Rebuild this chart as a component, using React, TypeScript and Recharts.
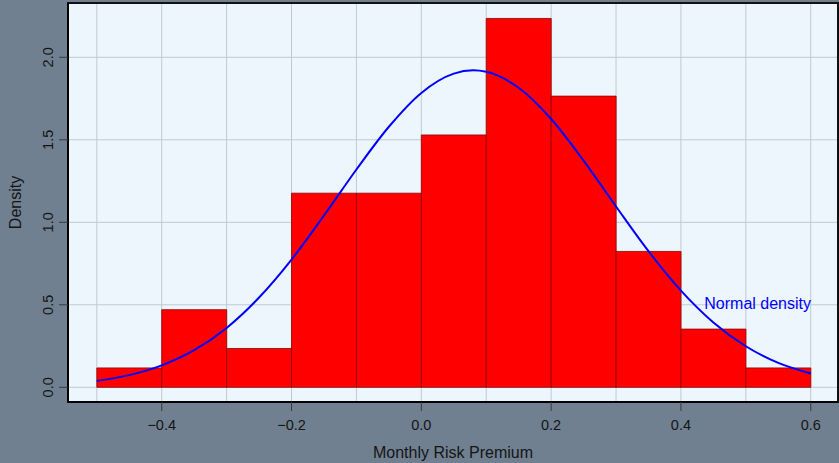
import React from 'react';
import {
  ComposedChart,
  Bar,
  Line,
  XAxis,
  YAxis,
  CartesianGrid,
  ReferenceArea,
  ReferenceDot,
} from 'recharts';

// Histogram bins (centres) and their densities
const binCenters = [-0.45, -0.35, -0.25, -0.15, -0.05, 0.05, 0.15, 0.25, 0.35, 0.45, 0.55];
const binDensity = [0.1176, 0.4706, 0.2353, 1.1765, 1.1765, 1.5294, 2.2353, 1.7647, 0.8235, 0.3529, 0.1176];

// Normal density curve
const curveX = [
  -0.5, -0.45, -0.4, -0.35, -0.3, -0.25, -0.2, -0.15, -0.1, -0.05, 0.0, 0.05, 0.08, 0.1,
  0.15, 0.2, 0.25, 0.3, 0.35, 0.4, 0.45, 0.5, 0.55, 0.6,
];
const curveDensity = [
  0.039, 0.074, 0.133, 0.225, 0.36, 0.544, 0.774, 1.041, 1.32, 1.579, 1.784, 1.901, 1.921, 1.912,
  1.815, 1.626, 1.374, 1.096, 0.825, 0.586, 0.393, 0.249, 0.148, 0.084,
];

const xTicks = [-0.4, -0.2, 0.0, 0.2, 0.4, 0.6];
const gridXTicks = [-0.5, -0.4, -0.3, -0.2, -0.1, 0.0, 0.1, 0.2, 0.3, 0.4, 0.5, 0.6];
const yTicks = [0, 0.5, 1.0, 1.5, 2.0];

const xDomain: [number, number] = [-0.5444, 0.642];
const yDomain: [number, number] = [-0.089, 2.329];

const labelX = 0.436;
const labelY = 0.51;

const barData = binCenters.map((x, i) => ({ x, density: binDensity[i] }));
const curveData = curveX.map((x, i) => ({ x, normal: curveDensity[i] }));

const FONT = '"Liberation Sans", Arial, Helvetica, sans-serif';
const TICK_SIZE = 14.5;
const TITLE_SIZE = 16;

const fmt = (v: number) => v.toFixed(1).replace('-', '\u2212');

const YTick = (props: any) => {
  const { x, y, payload } = props;
  return (
    <text
      x={x}
      y={y}
      transform={`rotate(-90 ${x} ${y})`}
      textAnchor="middle"
      fontSize={TICK_SIZE}
      fontFamily={FONT}
      fill="#151515"
    >
      {fmt(Number(payload.value))}
    </text>
  );
};

export default function App() {
  return (
    <div
      style={{
        position: 'absolute',
        left: 0,
        top: 0,
        width: 839,
        height: 463,
        background: '#708090',
        fontFamily: FONT,
      }}
    >
      <ComposedChart
        width={839}
        height={463}
        data={barData}
        margin={{ top: 3, right: 1, left: 0, bottom: 0 }}
        barCategoryGap={0}
        barGap={0}
      >
        <CartesianGrid
          xAxisId="grid"
          fill="#eef6fd"
          stroke="#bfc9d3"
          strokeWidth={1}
        />
        <XAxis
          xAxisId="grid"
          dataKey="x"
          type="number"
          domain={xDomain}
          allowDataOverflow
          ticks={gridXTicks}
          height={0}
          hide
        />
        <XAxis
          xAxisId="main"
          dataKey="x"
          type="number"
          domain={xDomain}
          allowDataOverflow
          ticks={xTicks}
          interval={0}
          height={61}
          tickSize={9}
          tickMargin={9}
          tickFormatter={fmt}
          tick={{ fontSize: TICK_SIZE, fill: '#151515', fontFamily: FONT }}
          tickLine={{ stroke: '#3a3a3a', strokeWidth: 1 }}
          axisLine={{ stroke: '#000', strokeWidth: 2 }}
          label={{
            value: 'Monthly Risk Premium',
            position: 'insideBottom',
            offset: 5,
            style: { fontSize: TITLE_SIZE, fill: '#151515', fontFamily: FONT },
          }}
        />
        <YAxis
          type="number"
          domain={yDomain}
          allowDataOverflow
          ticks={yTicks}
          interval={0}
          width={68}
          tickSize={9}
          tickMargin={6}
          tick={<YTick />}
          tickLine={{ stroke: '#3a3a3a', strokeWidth: 1 }}
          axisLine={{ stroke: '#000', strokeWidth: 2 }}
          label={{
            value: 'Density',
            angle: -90,
            position: 'insideLeft',
            offset: 15,
            style: { fontSize: TITLE_SIZE, fill: '#151515', fontFamily: FONT, textAnchor: 'middle' },
          }}
        />
        <Bar
          xAxisId="main"
          dataKey="density"
          fill="#ff0000"
          stroke="#8b0000"
          strokeWidth={0.8}
          isAnimationActive={false}
        />
        <Line
          xAxisId="grid"
          data={curveData}
          dataKey="normal"
          type="monotone"
          stroke="#0000ff"
          strokeWidth={2}
          dot={false}
          activeDot={false}
          isAnimationActive={false}
        />
        <ReferenceDot
          xAxisId="grid"
          x={labelX}
          y={labelY}
          r={0}
          fill="none"
          stroke="none"
          label={{
            content: (p: any) => {
              const vb = p.viewBox || {};
              return (
                <text
                  x={vb.x}
                  y={vb.y}
                  textAnchor="start"
                  dominantBaseline="central"
                  fontSize={16}
                  fontFamily={FONT}
                  fill="#0000ff"
                >
                  Normal density
                </text>
              );
            },
          }}
        />
        <ReferenceArea
          xAxisId="grid"
          x1={xDomain[0]}
          x2={xDomain[1]}
          y1={yDomain[0]}
          y2={yDomain[1]}
          fill="none"
          stroke="#111"
          strokeWidth={2}
        />
      </ComposedChart>
    </div>
  );
}
